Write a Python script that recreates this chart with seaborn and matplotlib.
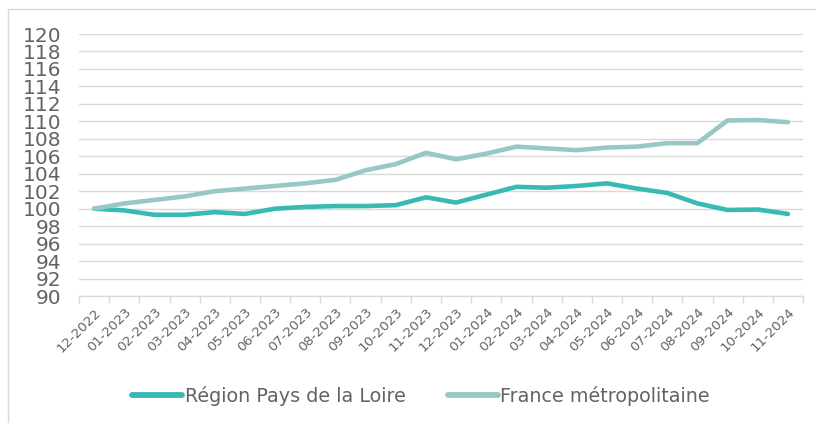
import matplotlib
import numpy as np
import pandas as pd
import seaborn as sns

matplotlib.use("Agg")
import matplotlib.pyplot as plt
from matplotlib.patches import Rectangle
from matplotlib.ticker import FixedLocator

MONTHS = [
    "12-2022", "01-2023", "02-2023", "03-2023", "04-2023", "05-2023",
    "06-2023", "07-2023", "08-2023", "09-2023", "10-2023", "11-2023",
    "12-2023", "01-2024", "02-2024", "03-2024", "04-2024", "05-2024",
    "06-2024", "07-2024", "08-2024", "09-2024", "10-2024", "11-2024",
]
REGION = [
    100.0, 99.8, 99.3, 99.3, 99.6, 99.4, 100.0, 100.2, 100.3, 100.3, 100.4, 101.3,
    100.7, 101.6, 102.5, 102.4, 102.6, 102.9, 102.3, 101.8, 100.6, 99.85, 99.9, 99.4,
]
FRANCE = [
    100.0, 100.6, 101.0, 101.4, 102.0, 102.3, 102.6, 102.9, 103.3, 104.4, 105.1, 106.4,
    105.65, 106.3, 107.1, 106.9, 106.7, 107.0, 107.1, 107.5, 107.5, 110.1, 110.15, 109.9,
]
SERIES = ["Région Pays de la Loire", "France métropolitaine"]
COLORS = ["#38b9b4", "#96c9c5"]
Y_TICKS = list(range(90, 121, 2))

TEXT_COLOR = "#636363"
GRID_COLOR = "#d9d9d9"


def main() -> None:
    sns.set_theme(style="white")
    plt.rcParams["font.family"] = ["DejaVu Sans"]

    df = pd.DataFrame(
        {
            "mois": MONTHS * 2,
            "indice": REGION + FRANCE,
            "serie": [SERIES[0]] * len(MONTHS) + [SERIES[1]] * len(MONTHS),
        }
    )

    fig = plt.figure(figsize=(8.16, 4.23), dpi=100)
    ax = fig.add_axes([79 / 816, 1 - 296 / 423, 724 / 816, 262 / 423])

    sns.lineplot(
        data=df,
        x="mois",
        y="indice",
        hue="serie",
        hue_order=SERIES,
        palette=COLORS,
        linewidth=3.3,
        solid_capstyle="round",
        sort=False,
        ax=ax,
        zorder=3,
    )

    n = len(MONTHS)
    ax.set_xlim(-0.5, n - 0.5)
    ax.set_ylim(90, 120)
    ax.set_yticks(Y_TICKS)
    ax.yaxis.grid(True, color=GRID_COLOR, linewidth=1.0)
    ax.set_axisbelow(True)
    ax.tick_params(axis="y", length=0, labelsize=14.5, labelcolor=TEXT_COLOR, pad=13)

    ax.set_xticks(np.arange(n))
    ax.set_xticklabels(MONTHS, rotation=45, ha="right", rotation_mode="anchor")
    ax.tick_params(axis="x", which="major", length=0, labelsize=9.6,
                   labelcolor=TEXT_COLOR, pad=7)
    ax.xaxis.set_minor_locator(FixedLocator(np.arange(n + 1) - 0.5))
    ax.tick_params(axis="x", which="minor", length=5, width=1.0,
                   color=GRID_COLOR, bottom=True)

    for side in ["top", "right", "left"]:
        ax.spines[side].set_visible(False)
    ax.spines["bottom"].set_color(GRID_COLOR)
    ax.spines["bottom"].set_linewidth(1.0)

    ax.set_xlabel("")
    ax.set_ylabel("")

    handles, labels = ax.get_legend_handles_labels()
    ax.get_legend().remove()
    leg = fig.legend(
        handles,
        labels,
        loc="center",
        bbox_to_anchor=(421 / 816, 1 - 396 / 423),
        ncol=2,
        frameon=False,
        fontsize=13.8,
        handlelength=2.6,
        handletextpad=0.15,
        columnspacing=2.2,
    )
    for text in leg.get_texts():
        text.set_color(TEXT_COLOR)
    for line in leg.get_lines():
        line.set_linewidth(4.2)

    fig.patches.append(
        Rectangle((8 / 816, -0.1), 1.1, 1 - 9 / 423 + 0.1,
                  transform=fig.transFigure, fill=False,
                  edgecolor=GRID_COLOR, linewidth=1.0)
    )

    fig.savefig("out.png", dpi=100)
    plt.close(fig)


if __name__ == "__main__":
    main()
